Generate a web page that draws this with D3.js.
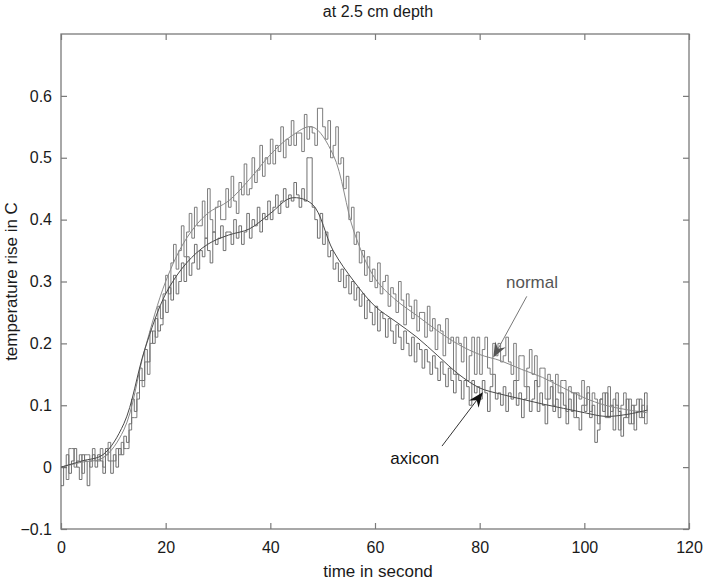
<!DOCTYPE html>
<html><head><meta charset="utf-8">
<script src="https://cdn.jsdelivr.net/npm/d3@7"></script>
<style>
html,body{margin:0;padding:0;background:#fff;}
svg{display:block;font-family:"Liberation Sans",Arial,sans-serif;}
</style></head><body>
<svg id="chart" width="712" height="584"></svg>
<script>
// ---------- data ----------
const rawStep = 0.5; // seconds between raw samples (t = 0 .. 112)
const normalRaw = [
0.00,0.00,-0.02,0.03,0.03,0.00,0.01,0.02,-0.01,0.02,
0.02,0.00,0.03,0.01,0.01,0.03,0.00,0.02,0.04,0.01,
0.01,0.03,0.02,0.04,0.03,0.03,0.06,0.08,0.08,0.11,
0.14,0.13,0.17,0.15,0.20,0.22,0.21,0.26,0.24,0.28,
0.31,0.28,0.33,0.36,0.32,0.35,0.39,0.34,0.38,0.41,
0.37,0.42,0.39,0.39,0.43,0.37,0.45,0.40,0.38,0.42,
0.43,0.40,0.40,0.45,0.42,0.47,0.43,0.41,0.46,0.44,
0.49,0.44,0.45,0.50,0.46,0.48,0.52,0.47,0.50,0.49,
0.53,0.49,0.52,0.51,0.55,0.50,0.53,0.52,0.56,0.52,
0.54,0.54,0.51,0.57,0.53,0.55,0.54,0.52,0.58,0.58,
0.55,0.53,0.56,0.50,0.52,0.55,0.49,0.50,0.45,0.47,
0.40,0.42,0.36,0.38,0.33,0.35,0.31,0.34,0.30,0.32,
0.29,0.33,0.28,0.30,0.31,0.26,0.29,0.28,0.25,0.30,
0.27,0.23,0.28,0.26,0.24,0.27,0.22,0.25,0.25,0.21,
0.26,0.22,0.24,0.19,0.23,0.22,0.18,0.24,0.20,0.21,
0.15,0.21,0.20,0.17,0.21,0.14,0.18,0.21,0.15,0.21,
0.15,0.19,0.21,0.16,0.15,0.20,0.18,0.20,0.17,0.18,
0.21,0.17,0.15,0.20,0.14,0.18,0.18,0.13,0.16,0.19,
0.15,0.18,0.13,0.16,0.16,0.11,0.15,0.14,0.10,0.15,
0.12,0.14,0.14,0.09,0.13,0.12,0.08,0.12,0.11,0.14,
0.10,0.13,0.09,0.12,0.11,0.07,0.11,0.12,0.08,0.13,
0.09,0.11,0.10,0.06,0.10,0.12,0.08,0.11,0.07,0.10,
0.11,0.08,0.10,0.07,0.10];
const axiconRaw = [
-0.03,0.00,0.02,-0.01,0.01,0.03,0.00,-0.02,0.02,0.01,
-0.03,0.01,0.02,0.00,0.02,0.01,-0.01,0.03,0.01,-0.01,
0.02,0.00,0.03,0.02,0.05,0.04,0.07,0.11,0.09,0.12,
0.16,0.14,0.19,0.17,0.22,0.20,0.24,0.22,0.23,0.27,
0.25,0.29,0.27,0.31,0.28,0.30,0.33,0.30,0.34,0.31,
0.33,0.36,0.32,0.35,0.34,0.37,0.35,0.33,0.38,0.36,
0.37,0.39,0.35,0.38,0.38,0.36,0.40,0.37,0.39,0.36,
0.38,0.41,0.37,0.40,0.39,0.42,0.38,0.41,0.40,0.43,
0.40,0.42,0.44,0.41,0.43,0.45,0.42,0.44,0.43,0.46,
0.44,0.42,0.45,0.43,0.50,0.50,0.42,0.40,0.37,0.41,
0.36,0.38,0.34,0.35,0.32,0.33,0.30,0.32,0.29,0.31,
0.28,0.30,0.27,0.29,0.26,0.28,0.24,0.27,0.25,0.23,
0.26,0.22,0.25,0.24,0.21,0.24,0.22,0.20,0.23,0.21,
0.19,0.22,0.20,0.18,0.21,0.17,0.20,0.19,0.16,0.19,
0.17,0.15,0.18,0.16,0.14,0.17,0.15,0.13,0.16,0.14,
0.12,0.15,0.14,0.11,0.14,0.13,0.10,0.14,0.12,0.13,
0.11,0.14,0.12,0.09,0.13,0.15,0.11,0.12,0.10,0.13,
0.09,0.12,0.11,0.14,0.10,0.12,0.08,0.11,0.13,0.09,
0.11,0.14,0.09,0.12,0.10,0.07,0.11,0.13,0.09,0.11,
0.08,0.12,0.10,0.07,0.11,0.09,0.12,0.08,0.06,0.10,
0.09,0.12,0.08,0.10,0.04,0.06,0.11,0.09,0.12,0.08,
0.10,0.06,0.12,0.09,0.05,0.08,0.11,0.07,0.10,0.06,
0.09,0.11,0.08,0.12,0.09];
const smoothTime = [0,4,8,12,16,20,24,28,32,36,40,44,48,52,56,60,64,68,72,76,80,84,88,92,96,100,104,108,112];
const normalSmooth = [0.000,0.008,0.015,0.060,0.190,0.300,0.370,0.410,0.430,0.465,0.505,0.535,0.550,0.505,0.380,0.305,
0.270,0.245,0.220,0.198,0.182,0.172,0.158,0.145,0.128,0.112,0.100,0.093,0.088];
const axiconSmooth = [0.000,0.010,0.020,0.070,0.190,0.280,0.330,0.360,0.375,0.385,0.410,0.435,0.425,0.350,0.300,0.260,
0.235,0.210,0.180,0.150,0.128,0.118,0.110,0.102,0.095,0.088,0.082,0.085,0.092];
const xTicks = [0,20,40,60,80,100,120];
const yTicks = [-0.1,0,0.1,0.2,0.3,0.4,0.5,0.6];
const titleText = "at 2.5 cm depth";
const xLabel = "time in second";
const yLabel = "temperature rise in C";
// annotations: [label, textT, textV, tailT, tailV, tipT, tipV]
const annNormal = ["normal", 90, 0.290, 89.0, 0.276, 82.6, 0.177];
const annAxicon = ["axicon", 67.6, 0.005, 72.8, 0.034, 80.6, 0.121];

// ---------- layout ----------
const W = 712, H = 584;
const m = {left: 61, right: 23, top: 34, bottom: 55};
const svg = d3.select("#chart");
const x = d3.scaleLinear().domain([0,120]).range([m.left, W - m.right]);
const y = d3.scaleLinear().domain([-0.1,0.7]).range([H - m.bottom, m.top]);

const frame = "#7a7a7a";
svg.append("rect").attr("x", x(0)).attr("y", y(0.7)).attr("width", x(120)-x(0)).attr("height", y(-0.1)-y(0.7))
  .attr("fill","none").attr("stroke",frame).attr("stroke-width",1.3);

const fmtY = d => d3.format("")(Math.round(d*10)/10);
const gx = svg.append("g").attr("transform",`translate(0,${y(-0.1)})`)
  .call(d3.axisBottom(x).tickValues(xTicks).tickSize(-6).tickPadding(13).tickFormat(d3.format("d")));
const gxt = svg.append("g").attr("transform",`translate(0,${y(0.7)})`)
  .call(d3.axisTop(x).tickValues(xTicks).tickSize(-6).tickFormat(""));
const gy = svg.append("g").attr("transform",`translate(${x(0)},0)`)
  .call(d3.axisLeft(y).tickValues(yTicks).tickSize(-6).tickPadding(9).tickFormat(fmtY));
const gyr = svg.append("g").attr("transform",`translate(${x(120)},0)`)
  .call(d3.axisRight(y).tickValues(yTicks).tickSize(-6).tickFormat(""));
[gx,gxt,gy,gyr].forEach(g=>{
  g.select(".domain").remove();
  g.selectAll(".tick line").attr("stroke",frame).attr("stroke-width",1.2);
  g.selectAll(".tick text").attr("fill","#1a1a1a").style("font-size","16px").style("font-family","'Liberation Sans',Arial,sans-serif");
});

// lines
const stepLine = d3.line().x((d,i)=>x(i*rawStep)).y(d=>y(d)).curve(d3.curveStepAfter);
const smoothLine = d3.line().x((d,i)=>x(smoothTime[i])).y(d=>y(d)).curve(d3.curveCatmullRom.alpha(0.5));
const series = [
  {data: axiconRaw, gen: stepLine, color: "#606060", w: 0.9},
  {data: normalRaw, gen: stepLine, color: "#6e6e6e", w: 0.9},
  {data: normalSmooth, gen: smoothLine, color: "#8a8a8a", w: 1},
  {data: axiconSmooth, gen: smoothLine, color: "#4a4a4a", w: 1}
];
svg.append("g").selectAll("path").data(series).join("path")
  .attr("d", s => s.gen(s.data)).attr("fill","none")
  .attr("stroke", s=>s.color).attr("stroke-width", s=>s.w).attr("stroke-linejoin","miter");

// annotations
function arrow(a, lineColor, headColor, textColor){
  const [label, tt, tv, t0, v0, t1, v1] = a;
  const x0 = x(t0), y0 = y(v0), x1 = x(t1), y1 = y(v1);
  const ang = Math.atan2(y1-y0, x1-x0);
  const L = 15, Wd = 6, notch = 10;
  const ux = Math.cos(ang), uy = Math.sin(ang), px = -uy, py = ux;
  const bx = x1 - ux*L, by = y1 - uy*L;
  const nx = x1 - ux*notch, ny = y1 - uy*notch;
  svg.append("line").attr("x1",x0).attr("y1",y0).attr("x2",nx).attr("y2",ny)
    .attr("stroke",lineColor).attr("stroke-width",1);
  svg.append("path").attr("d",`M${x1},${y1}L${bx+px*Wd},${by+py*Wd}L${nx},${ny}L${bx-px*Wd},${by-py*Wd}Z`)
    .attr("fill",headColor);
  svg.append("text").attr("x",x(tt)).attr("y",y(tv)).attr("text-anchor","middle")
    .attr("fill",textColor).style("font-size","17px").text(label);
}
arrow(annNormal, "#777", "#555", "#555");
arrow(annAxicon, "#333", "#111", "#111");

// titles
svg.append("text").attr("x",(x(0)+x(120))/2+3).attr("y",17).attr("text-anchor","middle")
  .attr("fill","#1a1a1a").style("font-size","16px").text(titleText);
svg.append("text").attr("x",(x(0)+x(120))/2+3).attr("y",577).attr("text-anchor","middle")
  .attr("fill","#1a1a1a").style("font-size","17px").text(xLabel);
svg.append("text").attr("transform",`translate(17,${(y(-0.1)+y(0.7))/2}) rotate(-90)`).attr("text-anchor","middle")
  .attr("fill","#1a1a1a").style("font-size","17px").text(yLabel);
</script>
</body></html>
